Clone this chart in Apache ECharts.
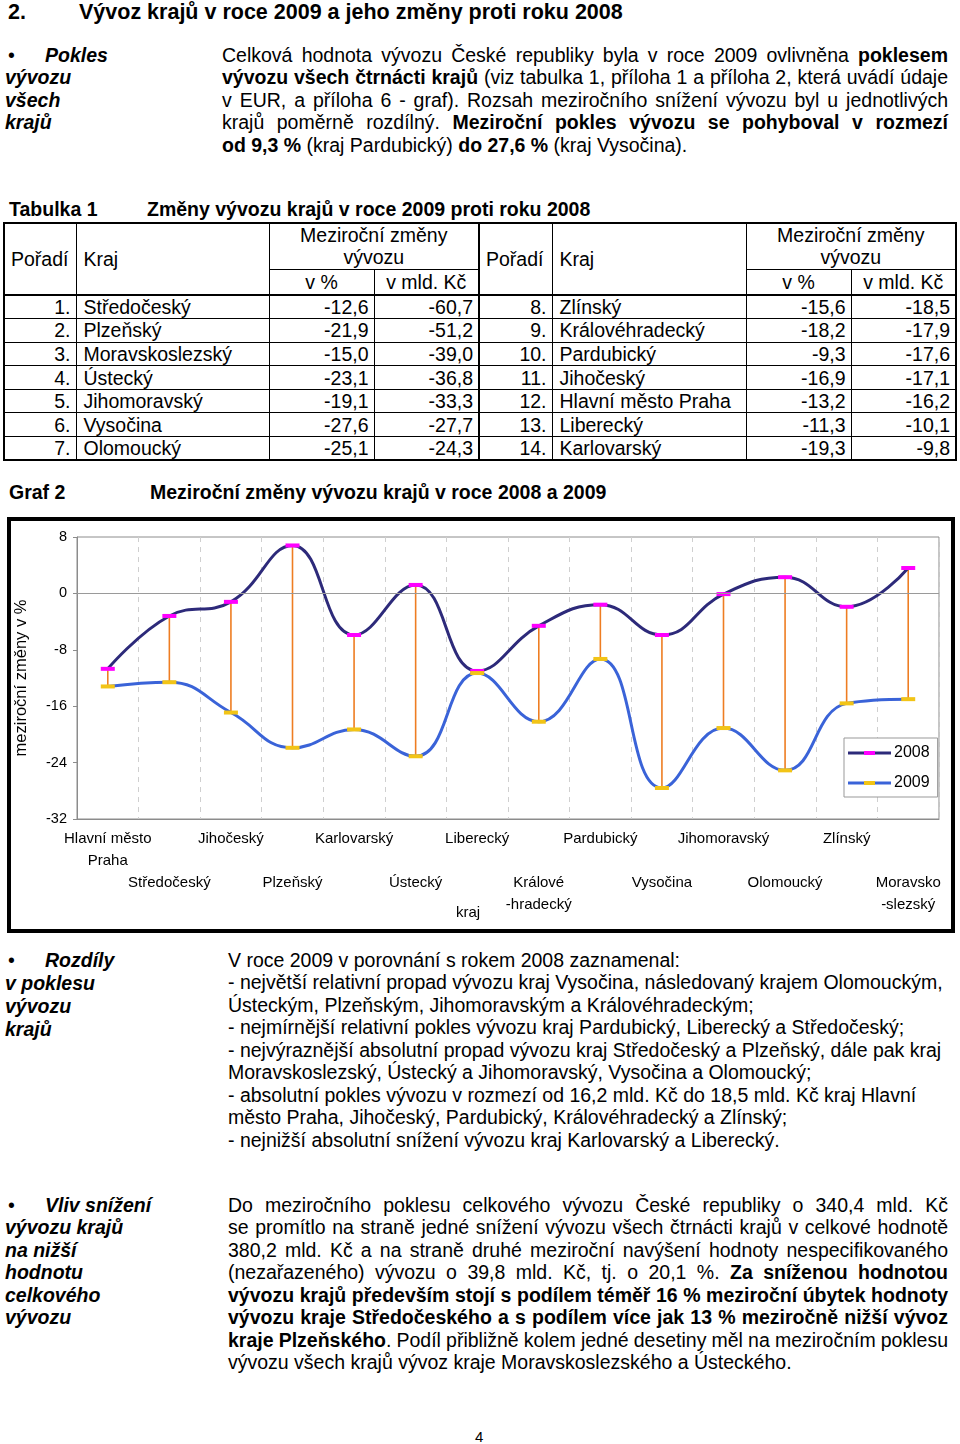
<!DOCTYPE html>
<html lang="cs">
<head>
<meta charset="utf-8">
<script src="https://cdn.jsdelivr.net/npm/echarts@6/dist/echarts.min.js"></script>
<style>
  html, body { margin:0; padding:0; background:#fff; }
  body { width:960px; height:1444px; position:relative; overflow:hidden;
         font-family:"Liberation Sans", Arial, sans-serif; color:#000; }
  .t { position:absolute; white-space:nowrap; font-size:19.5px; line-height:22.5px; }
  .j { text-align:justify; text-align-last:justify; white-space:normal; word-spacing:-3px; }
  .bi { font-weight:bold; font-style:italic; }
  b { font-weight:bold; }
  #frame { position:absolute; left:7px; top:517px; width:948px; height:416px;
           border:4px solid #000; box-sizing:border-box; }
  #chart { position:absolute; left:0; top:500px; width:960px; height:440px; }
  table { border-collapse:collapse; table-layout:fixed; font-size:19.5px; }
  td { border:1px solid #000; padding:0; line-height:22px; overflow:hidden; white-space:nowrap; }
</style>
</head>
<body>
<div id="doc"></div>
<div id="tablewrap" style="position:absolute;left:3px;top:222px;"></div>
<div id="frame"></div>
<div id="chart"></div>
<script>
// ---------- DATA ----------
const chartCategories = ['Hlavní město\nPraha', 'Středočeský', 'Jihočeský', 'Plzeňský', 'Karlovarský',
  'Ústecký', 'Liberecký', 'Králové\n-hradecký', 'Pardubický', 'Vysočina', 'Jihomoravský',
  'Olomoucký', 'Zlínský', 'Moravsko\n-slezský'];
const values2008 = [-10.7, -3.2, -1.2, 6.8, -5.9, 1.2, -11.0, -4.6, -1.6, -5.9, -0.1, 2.3, -1.9, 3.6];
const values2009 = [-13.2, -12.6, -16.9, -21.9, -19.3, -23.1, -11.3, -18.2, -9.3, -27.6, -19.1, -25.1, -15.6, -15.0];
const seriesNames = ['2008', '2009'];
const yMin = -32, yMax = 8, yInterval = 8;

const tableRank = ['1.', '2.', '3.', '4.', '5.', '6.', '7.', '8.', '9.', '10.', '11.', '12.', '13.', '14.'];
const tableKraj = ['Středočeský', 'Plzeňský', 'Moravskoslezský', 'Ústecký', 'Jihomoravský', 'Vysočina',
  'Olomoucký', 'Zlínský', 'Královéhradecký', 'Pardubický', 'Jihočeský', 'Hlavní město Praha',
  'Liberecký', 'Karlovarský'];
const tablePct = ['-12,6', '-21,9', '-15,0', '-23,1', '-19,1', '-27,6', '-25,1', '-15,6', '-18,2',
  '-9,3', '-16,9', '-13,2', '-11,3', '-19,3'];
const tableMld = ['-60,7', '-51,2', '-39,0', '-36,8', '-33,3', '-27,7', '-24,3', '-18,5', '-17,9',
  '-17,6', '-17,1', '-16,2', '-10,1', '-9,8'];

// ---------- DOCUMENT TEXT ----------
const doc = document.getElementById('doc');
function put(html, x, yc, opts) {
  opts = opts || {};
  const d = document.createElement('div');
  d.className = 't' + (opts.cls ? ' ' + opts.cls : '');
  const lh = opts.lh || 22.5;
  d.style.left = x + 'px';
  d.style.top = (yc - lh / 2) + 'px';
  if (opts.size) d.style.fontSize = opts.size + 'px';
  d.style.lineHeight = lh + 'px';
  if (opts.w) d.style.width = opts.w + 'px';
  d.innerHTML = html;
  doc.appendChild(d);
  return d;
}
// heading
put('<b>2.</b>', 8, 12, {size:21.5, lh:26});
put('<b>Vývoz krajů v roce 2009 a jeho změny proti roku 2008</b>', 79, 12, {size:21.5, lh:26});

// block 1
put('•', 8, 55); put('Pokles', 45, 55, {cls:'bi'});
put('vývozu', 5, 77, {cls:'bi'}); put('všech', 5, 100, {cls:'bi'}); put('krajů', 5, 122, {cls:'bi'});
const b1 = [
  ['Celková hodnota vývozu České republiky byla v roce 2009 ovlivněna <b>poklesem</b>', true],
  ['<b>vývozu všech čtrnácti krajů</b> (viz tabulka 1, příloha 1 a příloha 2, která uvádí údaje', true],
  ['v EUR, a příloha 6 - graf). Rozsah meziročního snížení vývozu byl u jednotlivých', true],
  ['krajů poměrně rozdílný. <b>Meziroční pokles vývozu se pohyboval v rozmezí</b>', true],
  ['<b>od 9,3 %</b> (kraj Pardubický) <b>do 27,6 %</b> (kraj Vysočina).', false]
];
b1.forEach((l, i) => put(l[0], 222, 55 + i * 22.5, {cls: l[1] ? 'j' : '', w: 726}));

// table title
put('<b>Tabulka 1</b>', 9, 209);
put('<b>Změny vývozu krajů v roce 2009 proti roku 2008</b>', 147, 209);

// graph title
put('<b>Graf 2</b>', 9, 492);
put('<b>Meziroční změny vývozu krajů v roce 2008 a 2009</b>', 150, 492);

// block 2
put('•', 8, 960); put('Rozdíly', 45, 960, {cls:'bi'});
put('v poklesu', 5, 983, {cls:'bi'}); put('vývozu', 5, 1006, {cls:'bi'}); put('krajů', 5, 1029, {cls:'bi'});
const b2 = [
  'V roce 2009 v porovnání s rokem 2008 zaznamenal:',
  '- největší relativní propad vývozu kraj Vysočina, následovaný krajem Olomouckým,',
  'Ústeckým, Plzeňským, Jihomoravským a Královéhradeckým;',
  '- nejmírnější relativní pokles vývozu kraj Pardubický, Liberecký a Středočeský;',
  '- nejvýraznější absolutní propad vývozu kraj Středočeský a Plzeňský, dále pak kraj',
  'Moravskoslezský, Ústecký a Jihomoravský, Vysočina a Olomoucký;',
  '- absolutní pokles vývozu v rozmezí od 16,2 mld. Kč do 18,5 mld. Kč kraj Hlavní',
  'město Praha, Jihočeský, Pardubický, Královéhradecký a Zlínský;',
  '- nejnižší absolutní snížení vývozu kraj Karlovarský a Liberecký.'
];
b2.forEach((l, i) => put(l, 228, 960 + i * 22.5));

// block 3
put('•', 8, 1205); put('Vliv snížení', 45, 1205, {cls:'bi'});
['vývozu krajů', 'na nižší', 'hodnotu', 'celkového', 'vývozu'].forEach((s, i) =>
  put(s, 5, 1227.5 + i * 22.5, {cls:'bi'}));
const b3 = [
  ['Do meziročního poklesu celkového vývozu České republiky o 340,4 mld. Kč', true],
  ['se promítlo na straně jedné snížení vývozu všech čtrnácti krajů v celkové hodnotě', true],
  ['380,2 mld. Kč a na straně druhé meziroční navýšení hodnoty nespecifikovaného', true],
  ['(nezařazeného) vývozu o 39,8 mld. Kč, tj. o 20,1 %. <b>Za sníženou hodnotou</b>', true],
  ['<b>vývozu krajů především stojí s podílem téměř 16 % meziroční úbytek hodnoty</b>', true],
  ['<b>vývozu kraje Středočeského a s podílem více jak 13 % meziročně nižší vývoz</b>', true],
  ['<b>kraje Plzeňského</b>. Podíl přibližně kolem jedné desetiny měl na meziročním poklesu', true],
  ['vývozu všech krajů vývoz kraje Moravskoslezského a Ústeckého.', false]
];
b3.forEach((l, i) => put(l[0], 228, 1205 + i * 22.5, {cls: l[1] ? 'j' : '', w: 720}));

// page number
put('4', 475, 1437, {size:15, lh:18});

// ---------- TABLE ----------
(function buildTable() {
  const colW = [72, 193, 105, 105, 73, 194, 105, 105];
  const thick = '2px solid #000';
  let h = '<table style="width:952px;border:2px solid #000;">';
  h += '<colgroup>' + colW.map(w => '<col style="width:' + w + 'px">').join('') + '</colgroup>';
  const hdrGroup = (left) => {
    const bl = left ? '' : 'border-left:' + thick + ';';
    return '<td rowspan="2" style="' + bl + 'padding-left:6px;">Pořadí</td>' +
           '<td rowspan="2" style="padding-left:7px;">Kraj</td>' +
           '<td colspan="2" style="text-align:center;line-height:22px;">Meziroční změny<br>vývozu</td>';
  };
  h += '<tr style="height:46px;">' + hdrGroup(true) + hdrGroup(false) + '</tr>';
  h += '<tr style="height:26px;border-bottom:' + thick + ';">' +
       '<td style="text-align:center;">v %</td><td style="text-align:center;">v mld. Kč</td>' +
       '<td style="text-align:center;">v %</td><td style="text-align:center;">v mld. Kč</td></tr>';
  for (let i = 0; i < 7; i++) {
    h += '<tr style="height:23.6px;">';
    [i, i + 7].forEach((k, side) => {
      const bl = side ? 'border-left:' + thick + ';' : '';
      h += '<td style="' + bl + 'text-align:right;padding-right:5px;">' + tableRank[k] + '</td>';
      h += '<td style="padding-left:7px;">' + tableKraj[k] + '</td>';
      h += '<td style="text-align:right;padding-right:5px;">' + tablePct[k] + '</td>';
      h += '<td style="text-align:right;padding-right:5px;">' + tableMld[k] + '</td>';
    });
    h += '</tr>';
  }
  h += '</table>';
  document.getElementById('tablewrap').innerHTML = h;
})();

// ---------- CHART ----------
const chart = echarts.init(document.getElementById('chart'), null, {renderer: 'canvas'});
const FONT = '"Liberation Sans", Arial, sans-serif';
const lineColors = ['#2D2A7A', '#3A63D8'];
const markerColors = ['#FF00FF', '#F2C416'];
const legendRich = { t: { fontSize: 16, fontFamily: FONT, color: '#000', padding: [0, 0, 0, 3] } };
seriesNames.forEach((n, k) => {
  legendRich['l' + k] = { width: 16, height: 3, backgroundColor: lineColors[k] };
  legendRich['m' + k] = { width: 11, height: 4, backgroundColor: markerColors[k] };
});
const option = {
  animation: false,
  textStyle: { fontFamily: FONT, color: '#000' },
  grid: { left: 77, right: 21, top: 37, bottom: 121, show: true, borderColor: '#8c8c8c', borderWidth: 1, backgroundColor: 'transparent' },
  legend: {
    data: seriesNames.map(n => ({ name: n, icon: 'none' })),
    orient: 'vertical',
    left: 844, top: 238,
    padding: [7, 8, 6, 4],
    itemWidth: 0, itemHeight: 14, itemGap: 14,
    borderColor: '#999', borderWidth: 1, backgroundColor: '#fff',
    formatter: (name) => {
      const k = seriesNames.indexOf(name);
      return '{l' + k + '|}{m' + k + '|}{l' + k + '|}{t|' + name + '}';
    },
    textStyle: { fontSize: 16, fontFamily: FONT, color: '#000', padding: [0, 0, 0, -5], rich: legendRich }
  },
  xAxis: {
    type: 'category',
    data: chartCategories,
    boundaryGap: true,
    name: 'kraj',
    nameLocation: 'middle',
    nameGap: 86,
    nameMoveOverlap: false,
    nameTextStyle: { fontSize: 15, fontFamily: FONT, color: '#000', padding: [0, 80, 0, 0] },
    axisLine: { onZero: false, lineStyle: { color: '#8c8c8c' } },
    axisTick: { show: false },
    splitLine: { show: true, lineStyle: { color: '#cfcfcf', type: [5, 5], width: 1 } },
    axisLabel: {
      interval: 0, margin: 9, fontSize: 15, lineHeight: 22, color: '#000', fontFamily: FONT,
      formatter: (v, i) => (i % 2 ? '\n\n' + v : v)
    }
  },
  yAxis: {
    type: 'value', min: yMin, max: yMax, interval: yInterval,
    name: 'meziroční změny v %',
    nameLocation: 'middle', nameGap: 47,
    nameMoveOverlap: false,
    nameTextStyle: { fontSize: 16.5, fontFamily: FONT, color: '#000' },
    axisLine: { show: true, lineStyle: { color: '#8c8c8c' } },
    axisTick: { show: true, length: 4, lineStyle: { color: '#8c8c8c' } },
    splitLine: { show: false },
    axisLabel: { fontSize: 14.5, color: '#000', margin: 10, fontFamily: FONT }
  },
  series: [
    {
      type: 'custom',
      name: 'rozdíl',
      z: 1,
      encode: { x: 0, y: [1, 2] },
      data: chartCategories.map((c, i) => [i, values2008[i], values2009[i]]),
      renderItem: (params, api) => {
        const p1 = api.coord([api.value(0), api.value(1)]);
        const p2 = api.coord([api.value(0), api.value(2)]);
        return { type: 'line', shape: { x1: p1[0], y1: p1[1], x2: p2[0], y2: p2[1] },
                 style: { stroke: '#EE7D22', lineWidth: 1.6 } };
      },
      silent: true
    },
    {
      name: seriesNames[0], type: 'line', smooth: 0.45, z: 3,
      data: values2008,
      lineStyle: { color: lineColors[0], width: 3 },
      symbol: 'rect', symbolSize: [14, 4],
      itemStyle: { color: markerColors[0] },
      markLine: {
        silent: true, symbol: 'none', label: { show: false },
        lineStyle: { color: '#9a9a9a', width: 1, type: 'solid' },
        data: [{ yAxis: 0 }]
      }
    },
    {
      name: seriesNames[1], type: 'line', smooth: 0.45, z: 3,
      data: values2009,
      lineStyle: { color: lineColors[1], width: 3 },
      symbol: 'rect', symbolSize: [14, 4],
      itemStyle: { color: markerColors[1] }
    }
  ]
};
chart.setOption(option);
</script>
</body>
</html>
